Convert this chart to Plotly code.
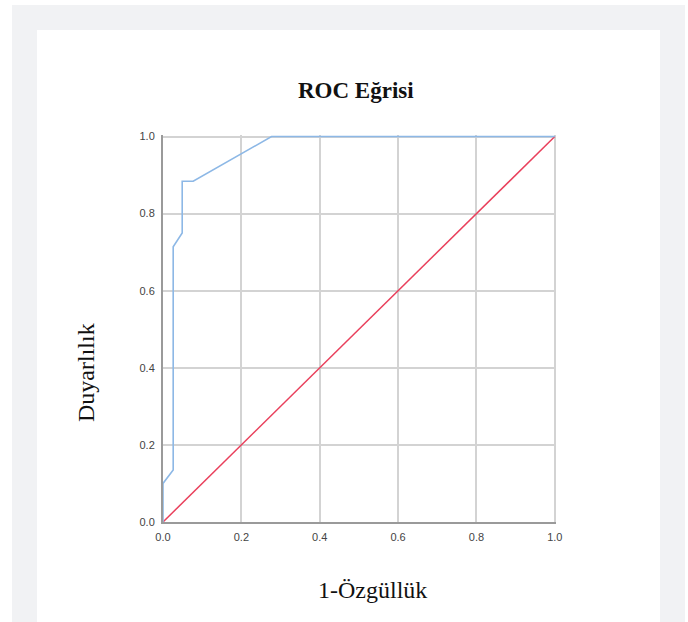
import plotly.graph_objects as go

# ROC curve coordinates (1 - specificity, sensitivity)
fpr = [0.0, 0.0, 0.026, 0.026, 0.049, 0.049, 0.077, 0.277, 1.0]
tpr = [0.0, 0.10, 0.135, 0.714, 0.75, 0.884, 0.884, 1.0, 1.0]

# Chance (reference) line
ref_x = [0.0, 1.0]
ref_y = [0.0, 1.0]

tick_vals = [0.0, 0.2, 0.4, 0.6, 0.8, 1.0]
tick_text = ["0.0", "0.2", "0.4", "0.6", "0.8", "1.0"]

title_text = "ROC Eğrisi"
x_title = "1-Özgüllük"
y_title = "Duyarlılık"

W, H = 688, 622
L, R, T, B = 163, 132, 135, 100
pw, ph = W - L - R, H - T - B


def px_x(p):
    return (p - L) / pw


def px_y(p):
    return (H - B - p) / ph


fig = go.Figure()
fig.add_trace(go.Scatter(x=ref_x, y=ref_y, mode="lines",
                         line=dict(color="#e9405c", width=1.5),
                         hoverinfo="skip", showlegend=False))
fig.add_trace(go.Scatter(x=fpr, y=tpr, mode="lines",
                         line=dict(color="#8db8e6", width=1.6),
                         showlegend=False))

serif = "Liberation Serif, Times New Roman, serif"
tick_font = dict(family="Liberation Sans, Arial, sans-serif", size=11, color="#444444")

axis_common = dict(
    tickvals=tick_vals, ticktext=tick_text,
    showgrid=True, gridcolor="#d3d3d3", gridwidth=1.5,
    showline=True, linecolor="#9a9a9a", linewidth=2,
    zeroline=False, ticks="", fixedrange=True,
    tickfont=tick_font, ticklabelstandoff=4,
)

fig.update_layout(
    width=W, height=H,
    margin=dict(l=L, r=R, t=T, b=B, pad=0),
    paper_bgcolor="white", plot_bgcolor="white",
    xaxis=dict(range=[0, 1.003], **axis_common),
    yaxis=dict(range=[0, 1.004], **axis_common),
    shapes=[
        # page background
        dict(type="rect", xref="paper", yref="paper", layer="below",
             x0=px_x(12), x1=px_x(685), y0=px_y(622), y1=px_y(5),
             fillcolor="#f1f2f4", line=dict(width=0)),
        # white card
        dict(type="rect", xref="paper", yref="paper", layer="below",
             x0=px_x(37), x1=px_x(660), y0=px_y(622), y1=px_y(30),
             fillcolor="white", line=dict(width=0)),
    ],
    annotations=[
        dict(text="<b>" + title_text + "</b>", xref="paper", yref="paper",
             x=px_x(356), y=px_y(90), xanchor="center", yanchor="middle",
             showarrow=False, font=dict(family=serif, size=23, color="#111111")),
        dict(text=x_title, xref="paper", yref="paper",
             x=px_x(372), y=px_y(590), xanchor="center", yanchor="middle",
             showarrow=False, font=dict(family=serif, size=24, color="#111111")),
        dict(text=y_title, xref="paper", yref="paper", textangle=-90,
             x=px_x(86), y=px_y(373), xanchor="center", yanchor="middle",
             showarrow=False, font=dict(family=serif, size=24, color="#111111")),
    ],
)

fig.write_html("out.html")
